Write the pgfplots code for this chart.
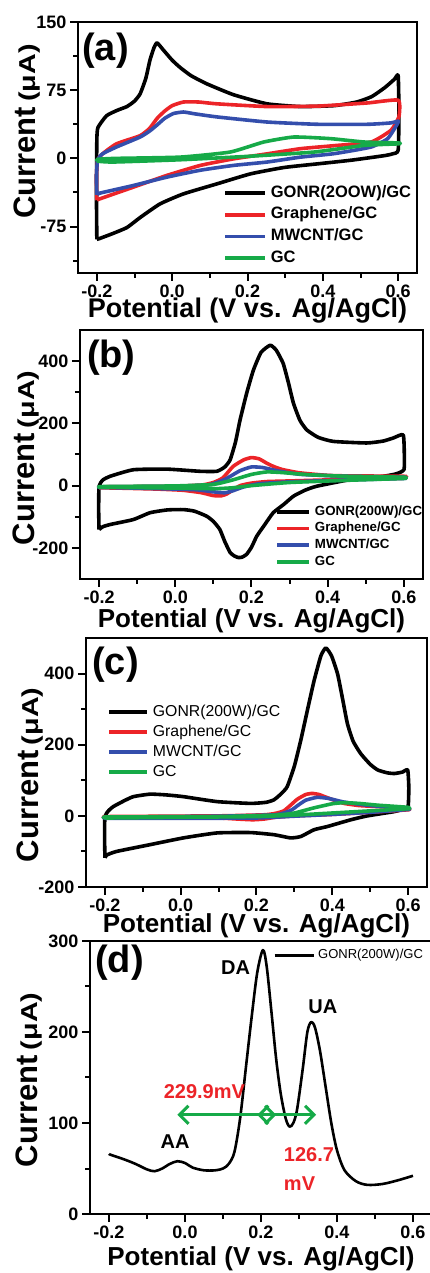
\documentclass[border=0pt]{standalone}
\usepackage{fontspec}
\setmainfont{Liberation Sans}
\usepackage{pgfplots}
\pgfplotsset{compat=1.18}
\usetikzlibrary{arrows.meta}

\definecolor{cvred}{RGB}{236,36,40}
\definecolor{cvblue}{RGB}{52,78,172}
\definecolor{cvgreen}{RGB}{22,170,72}

\pgfplotsset{
  cvpanel/.style={
    scale only axis,
    anchor=south west,
    xmin=-0.25, xmax=0.65,
    xtick={-0.2,0,0.2,0.4,0.6},
    minor xtick={-0.1,0.1,0.3,0.5},
    tick align=outside,
    xtick pos=bottom, ytick pos=left,
    axis line style={line width=2.5pt},
    major tick style={line width=2pt, black},
    minor tick style={line width=2pt, black},
    major tick length=8pt, minor tick length=5pt,
    /pgf/number format/assume math mode=true,
    ticklabel style={font=\fontsize{18}{18}\selectfont\bfseries},
    xticklabel style={/pgf/number format/.cd, fixed, fixed zerofill, precision=1},
    every axis x label/.style={anchor=base, font=\fontsize{26}{26}\selectfont\bfseries},
    every axis y label/.style={rotate=90, anchor=center, font=\fontsize{31}{31}\selectfont\bfseries},
    xlabel={Potential (V vs. Ag/AgCl)},
    ylabel={Current\,{\fontsize{23}{23}\selectfont\scalebox{1.25}[1]{(μA)}}},
    legend cell align=left,
    every axis plot/.append style={line width=3.6pt, line join=round, smooth, tension=0.3},
  },
  cvlegend/.style={
    legend style={draw=none, fill=none, anchor=north west, inner sep=0pt,
      column sep=4pt, nodes={inner sep=0pt}},
  },
}

\begin{document}
\begin{tikzpicture}
\useasboundingbox (0,0) rectangle (429pt,1273pt);

% (a)
\begin{axis}[cvpanel, cvlegend,
  at={(78pt,1000pt)}, width=339pt, height=251pt,
  ymin=-126, ymax=150,
  ytick={-75,0,75,150}, minor ytick={-112.5,-37.5,37.5,112.5},
  xlabel style={at={(axis description cs:0.5,-0.178)}, font=\fontsize{27}{27}\selectfont\bfseries},
  ylabel style={at={(axis description cs:-0.150,0.564)}},
  legend style={at={(axis description cs:0.428,0.351)}, row sep=5.7pt,
    nodes={text height=12pt, text depth=4pt}, font=\fontsize{16.5}{16.5}\selectfont\bfseries},
  legend image code/.code={\draw[#1, line width=3.6pt] (0pt,0pt) -- (40pt,0pt);},
]
\addplot[black] coordinates {(-0.2,-89) (-0.201,-40) (-0.2,20) (-0.197,34) (-0.174,47) (-0.145,53) (-0.12,57) (-0.1,63) (-0.085,71) (-0.07,88) (-0.059,108) (-0.048,122) (-0.04,127) (-0.023,119) (0.0,108) (0.021,100) (0.05,91) (0.092,82) (0.163,70) (0.252,60) (0.341,57) (0.43,58) (0.49,62) (0.53,68) (0.565,78) (0.59,87) (0.6,91) (0.602,50) (0.6,9) (0.585,5) (0.563,3) (0.475,-2) (0.386,-6) (0.297,-10) (0.208,-17) (0.119,-28) (0.03,-39) (-0.032,-50) (-0.085,-65) (-0.12,-76) (-0.16,-83) (-0.192,-88) (-0.2,-89)};
\addplot[cvred] coordinates {(-0.2,-46) (-0.201,-20) (-0.198,-2) (-0.185,5) (-0.148,16) (-0.085,25) (-0.06,33) (-0.04,44) (-0.02,52) (0.0,58) (0.03,62) (0.07,62) (0.119,60) (0.252,57) (0.386,57.5) (0.519,61) (0.6,64) (0.602,46) (0.581,31) (0.528,18) (0.43,14) (0.341,10.7) (0.252,5) (0.163,-0.5) (0.075,-7.7) (-0.014,-18.7) (-0.103,-31.6) (-0.192,-44.5) (-0.2,-46)};
\addplot[cvblue] coordinates {(-0.2,-40) (-0.201,-20) (-0.198,-2) (-0.185,5) (-0.148,12.5) (-0.085,23.5) (-0.06,30) (-0.041,36.4) (-0.02,44) (0.003,49.3) (0.03,51) (0.06,49) (0.119,45.6) (0.252,40) (0.386,37.5) (0.519,37.5) (0.58,39) (0.6,41) (0.598,38) (0.572,21.7) (0.528,12.5) (0.43,5.2) (0.341,1.4) (0.252,-4) (0.163,-7.7) (0.075,-13) (-0.014,-20.6) (-0.103,-29.8) (-0.192,-38.2) (-0.2,-40)};
\addplot[cvgreen] coordinates {(-0.2,-3) (-0.198,-1) (-0.15,0) (0.021,1.4) (0.154,7) (0.243,18) (0.323,23.5) (0.421,21.7) (0.51,18) (0.6,17) (0.6,16) (0.51,14.3) (0.377,7) (0.199,2.2) (0.021,-1.5) (-0.157,-4) (-0.2,-3)};
\legend{GONR(2OOW)/GC, Graphene/GC, MWCNT/GC, GC}
\node[anchor=north west, inner sep=0pt, font=\fontsize{38}{38}\selectfont\bfseries] at (axis description cs:0.012,0.956) {(a)};
\end{axis}

% (b)
\begin{axis}[cvpanel, cvlegend,
  at={(80pt,694pt)}, width=343pt, height=249pt,
  ymin=-300, ymax=500,
  ytick={-200,0,200,400}, minor ytick={-100,100,300},
  xlabel style={at={(axis description cs:0.5,-0.193)}},
  ylabel style={at={(axis description cs:-0.157,0.486)}},
  legend style={at={(axis description cs:0.569,0.297)}, row sep=3.7pt,
    nodes={text height=10pt, text depth=3pt}, font=\fontsize{13.3}{13.3}\selectfont\bfseries},
  legend image code/.code={\draw[#1, line width=3.6pt] (0pt,0pt) -- (32pt,0pt);},
]
\addplot[black] coordinates {(-0.2,-141) (-0.201,-80) (-0.2,-2) (-0.19,18) (-0.171,30) (-0.11,51) (-0.022,53) (0.065,46) (0.109,46) (0.13,60) (0.144,83) (0.158,140) (0.17,211) (0.188,300) (0.205,371) (0.225,428) (0.249,451) (0.265,435) (0.283,393) (0.297,330) (0.31,265) (0.327,210) (0.345,179) (0.375,155) (0.415,142) (0.502,137) (0.545,143) (0.572,153) (0.598,163) (0.601,100) (0.6,51) (0.58,38) (0.546,30) (0.458,19) (0.371,-2) (0.34,-15) (0.31,-34) (0.285,-60) (0.257,-87) (0.235,-125) (0.214,-162) (0.2,-198) (0.187,-221) (0.175,-230) (0.165,-231) (0.155,-226) (0.144,-215) (0.13,-180) (0.117,-141) (0.1,-115) (0.082,-98) (0.05,-82) (0.021,-77) (-0.02,-78) (-0.066,-87) (-0.11,-109) (-0.171,-125) (-0.19,-132) (-0.2,-141)};
\addplot[cvred] coordinates {(-0.2,-7) (-0.19,-4) (-0.1,-3) (0,-2) (0.07,2) (0.1,10) (0.125,25) (0.152,62) (0.18,83) (0.2,90) (0.22,86) (0.24,72) (0.257,62) (0.28,52) (0.327,41) (0.415,32) (0.6,30) (0.602,27) (0.6,24) (0.45,20) (0.3,15) (0.24,13) (0.2,8) (0.17,0) (0.15,-15) (0.135,-27) (0.12,-33) (0.1,-32) (0.08,-26) (0.065,-22) (0.02,-15) (-0.05,-11) (-0.15,-8) (-0.2,-7)};
\addplot[cvblue] coordinates {(-0.2,-6) (-0.19,-4) (0,-2) (0.09,3) (0.13,20) (0.17,48) (0.2,60) (0.23,58) (0.27,47) (0.33,36) (0.45,30) (0.6,27) (0.602,25) (0.6,23) (0.45,18) (0.3,12) (0.22,6) (0.18,-4) (0.15,-17) (0.13,-23) (0.1,-20) (0.05,-13) (-0.1,-8) (-0.19,-6) (-0.2,-6)};
\addplot[cvgreen] coordinates {(-0.2,-5) (-0.19,-3) (0,-1) (0.1,4) (0.15,18) (0.2,36) (0.24,44) (0.28,42) (0.35,35) (0.45,30) (0.6,27) (0.602,25) (0.6,23) (0.45,17) (0.3,10) (0.2,0) (0.15,-7) (0.1,-10) (0,-8) (-0.19,-5) (-0.2,-5)};
\legend{GONR(200W)/GC, Graphene/GC, MWCNT/GC, GC}
\node[anchor=north west, inner sep=0pt, font=\fontsize{38}{38}\selectfont\bfseries] at (axis description cs:0.020,0.960) {(b)};
\end{axis}

% (c)
\begin{axis}[cvpanel, cvlegend,
  at={(86pt,386pt)}, width=341pt, height=249pt,
  ymin=-200, ymax=500,
  ytick={-200,0,200,400}, minor ytick={-100,100,300},
  xlabel style={at={(axis description cs:0.5,-0.181)}},
  ylabel style={at={(axis description cs:-0.164,0.45)}},
  legend style={at={(axis description cs:0.062,0.735)}, row sep=4pt,
    nodes={text height=12pt, text depth=4pt}, font=\fontsize{15.8}{15.8}\selectfont},
  legend image code/.code={\draw[#1, line width=3.6pt] (0pt,0pt) -- (38pt,0pt);},
]
\addplot[black] coordinates {(-0.2,-118) (-0.201,-60) (-0.2,-2) (-0.19,15) (-0.178,26) (-0.15,42) (-0.125,54) (-0.081,61) (-0.04,59) (0.007,54) (0.096,40) (0.184,35) (0.225,38) (0.246,45) (0.265,62) (0.281,82) (0.3,140) (0.317,213) (0.335,300) (0.352,380) (0.37,450) (0.383,472) (0.398,450) (0.414,399) (0.427,330) (0.44,259) (0.455,210) (0.475,175) (0.5,145) (0.52,129) (0.545,121) (0.564,119) (0.585,123) (0.599,129) (0.602,80) (0.6,26) (0.585,18) (0.564,12) (0.493,0) (0.449,-11) (0.387,-30) (0.352,-39) (0.317,-58) (0.29,-62) (0.246,-53) (0.184,-47) (0.096,-48) (0.007,-62) (-0.081,-81) (-0.169,-100) (-0.195,-110) (-0.2,-118)};
\addplot[cvred] coordinates {(-0.2,-4) (-0.19,-2) (0.1,0) (0.22,3) (0.25,7) (0.272,14) (0.29,30) (0.308,47) (0.33,60) (0.347,63) (0.365,60) (0.387,51) (0.41,42) (0.431,35) (0.47,29) (0.52,26) (0.6,21) (0.602,19) (0.6,17) (0.5,10) (0.4,4) (0.3,0) (0.25,-4) (0.22,-9) (0.19,-11) (0.15,-9) (0.1,-6) (0,-5) (-0.19,-5) (-0.2,-4)};
\addplot[cvblue] coordinates {(-0.2,-6) (-0.19,-4) (0.1,-1) (0.25,3) (0.29,15) (0.31,30) (0.33,44) (0.36,52) (0.39,49) (0.43,39) (0.5,29) (0.6,22) (0.602,20) (0.6,18) (0.5,10) (0.4,4) (0.3,-1) (0.2,-6) (0,-7) (-0.19,-7) (-0.2,-6)};
\addplot[cvgreen] coordinates {(-0.2,-5) (-0.19,-3) (0.1,-2) (0.25,2) (0.3,8) (0.35,22) (0.4,34) (0.43,37) (0.47,35) (0.52,30) (0.6,24) (0.602,22) (0.6,20) (0.5,14) (0.4,8) (0.3,2) (0.2,-2) (0,-4) (-0.19,-6) (-0.2,-5)};
\legend{GONR(200W)/GC, Graphene/GC, MWCNT/GC, GC}
\node[anchor=north west, inner sep=0pt, font=\fontsize{38}{38}\selectfont\bfseries] at (axis description cs:0.018,0.964) {(c)};
\end{axis}

% (d)
\begin{axis}[cvpanel, cvlegend,
  at={(90pt,59pt)}, width=342pt, height=273pt,
  ymin=0, ymax=300,
  ytick={0,100,200,300}, minor ytick={50,150,250},
  xlabel style={at={(axis description cs:0.5,-0.187)}},
  ylabel style={at={(axis description cs:-0.178,0.491)}},
  legend style={at={(axis description cs:0.535,0.974)}, column sep=3pt,
    nodes={text height=10pt, text depth=4pt}, font=\fontsize{13}{13}\selectfont},
  legend image code/.code={\draw[#1, line width=3pt] (0pt,0pt) -- (39pt,0pt);},
  every axis plot/.append style={line width=2.6pt, tension=0.5},
]
\addplot[black] coordinates {(-0.2,66) (-0.195,65) (-0.16,60) (-0.13,55) (-0.1,49) (-0.08,47) (-0.06,50) (-0.04,55) (-0.02,58) (0,56) (0.02,51) (0.05,48) (0.08,48) (0.1,50) (0.115,55) (0.13,68) (0.145,105) (0.16,160) (0.175,215) (0.19,265) (0.205,290) (0.215,272) (0.228,220) (0.24,170) (0.252,132) (0.265,105) (0.275,96) (0.285,100) (0.295,115) (0.31,160) (0.322,200) (0.332,211) (0.342,205) (0.355,180) (0.37,140) (0.385,100) (0.4,70) (0.42,48) (0.45,36) (0.48,32) (0.52,33) (0.56,37) (0.6,42)};
\addlegendentry{GONR(200W)/GC}
\addplot[cvgreen, line width=3pt, sharp plot, {Straight Barb[length=9pt,width=18pt]}-{Straight Barb[length=9pt,width=18pt]}, forget plot] coordinates {(-0.02,109) (0.24,109)};
\addplot[cvgreen, line width=3pt, sharp plot, {Straight Barb[length=9pt,width=18pt]}-{Straight Barb[length=9pt,width=18pt]}, forget plot] coordinates {(0.19,109) (0.345,109)};
\node[font=\fontsize{20}{20}\selectfont\bfseries] at (axis cs:0.133,271) {DA};
\node[font=\fontsize{20}{20}\selectfont\bfseries] at (axis cs:0.363,228) {UA};
\node[font=\fontsize{20}{20}\selectfont\bfseries] at (axis cs:-0.026,80) {AA};
\node[text=cvred, font=\fontsize{20}{20}\selectfont\bfseries] at (axis cs:0.051,134) {229.9mV};
\node[text=cvred, anchor=west, inner sep=0pt, font=\fontsize{20}{20}\selectfont\bfseries] at (axis cs:0.26,65) {126.7};
\node[text=cvred, anchor=west, inner sep=0pt, font=\fontsize{20}{20}\selectfont\bfseries] at (axis cs:0.26,33) {mV};
\node[anchor=north west, inner sep=0pt, font=\fontsize{38}{38}\selectfont\bfseries] at (axis description cs:0.015,0.985) {(d)};
\end{axis}
\end{tikzpicture}
\end{document}
